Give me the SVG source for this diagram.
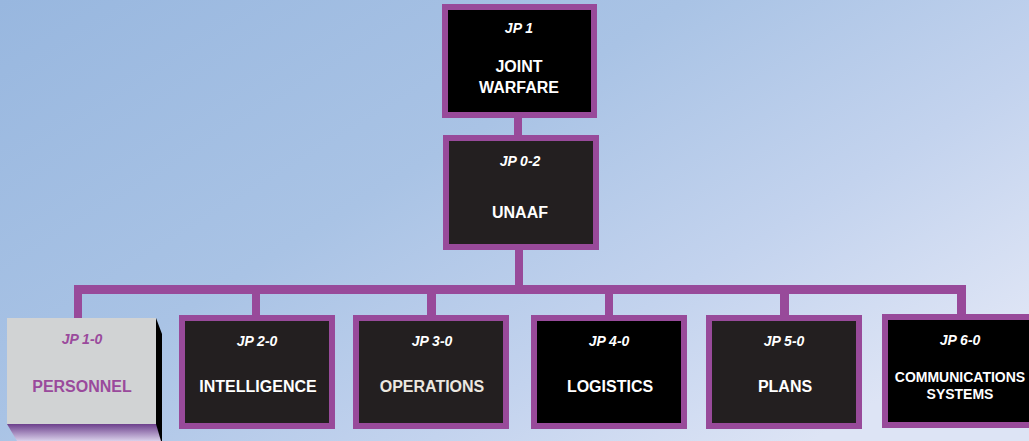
<svg xmlns="http://www.w3.org/2000/svg" width="1029" height="441" viewBox="0 0 1029 441">
  <defs>
    <linearGradient id="sky" x1="0" y1="0" x2="1" y2="0.7">
      <stop offset="0" stop-color="#98b7df"/>
      <stop offset="0.45" stop-color="#a9c3e5"/>
      <stop offset="0.75" stop-color="#c3d3ee"/>
      <stop offset="1" stop-color="#dde4f5"/>
    </linearGradient>
    <linearGradient id="bevel" x1="0" y1="0" x2="0" y2="1">
      <stop offset="0" stop-color="#6c3f8c"/>
      <stop offset="1" stop-color="#d9d0ea"/>
    </linearGradient>
    <style>
      .link { fill: #984a9a; }
      .box { stroke: #984a9a; stroke-width: 6; }
      .dark { fill: #231f20; }
      .black { fill: #000000; }
      .code { font-family: "Liberation Sans", Arial, sans-serif; font-size: 14px; font-weight: bold; font-style: italic; fill: #ffffff; text-anchor: middle; }
      .name { font-family: "Liberation Sans", Arial, sans-serif; font-size: 16px; font-weight: bold; fill: #ffffff; text-anchor: middle; }
      .small { font-size: 14px; }
      .violet { fill: #9a4a9c; }
    </style>
  </defs>

  <rect width="1029" height="441" fill="url(#sky)"/>

  <!-- connectors -->
  <g id="connectors">
    <rect class="link" x="514" y="116" width="8" height="21"/>
    <rect class="link" x="515" y="248" width="8" height="41"/>
    <rect class="link" x="74" y="285" width="892" height="9"/>
    <rect class="link" x="74" y="285" width="8" height="34"/>
    <rect class="link" x="252" y="285" width="8" height="32"/>
    <rect class="link" x="427" y="285" width="9" height="32"/>
    <rect class="link" x="605" y="285" width="8" height="32"/>
    <rect class="link" x="780" y="285" width="9" height="32"/>
    <rect class="link" x="957" y="285" width="9" height="31"/>
  </g>

  <g id="jp1">
    <rect class="box black" x="445" y="7" width="149" height="108"/>
    <text class="code" x="519" y="33">JP 1</text>
    <text class="name" x="519" y="72">JOINT</text>
    <text class="name" x="519" y="93">WARFARE</text>
  </g>

  <g id="jp0-2">
    <rect class="box dark" x="446" y="138" width="150" height="109"/>
    <text class="code" x="520" y="166">JP 0-2</text>
    <text class="name" x="520" y="218">UNAAF</text>
  </g>

  <g id="jp1-0">
    <polygon fill="#000000" points="156,318 162,334 162,441 156,441"/>
    <polygon fill="url(#bevel)" points="7,424 156,424 161,441 17,441"/>
    <rect fill="#d1d3d4" x="7" y="318" width="149" height="106"/>
    <text class="code violet" x="82" y="344">JP 1-0</text>
    <text class="name violet" x="82" y="392">PERSONNEL</text>
  </g>

  <g id="jp2-0">
    <rect class="box dark" x="182" y="318" width="150" height="108"/>
    <text class="code" x="257" y="346">JP 2-0</text>
    <text class="name" x="258" y="392">INTELLIGENCE</text>
  </g>

  <g id="jp3-0">
    <rect class="box dark" x="356" y="318" width="150" height="108"/>
    <text class="code" x="432" y="346">JP 3-0</text>
    <text class="name" x="432" y="392" fill="#ece8e0" style="fill:#ece8e0">OPERATIONS</text>
  </g>

  <g id="jp4-0">
    <rect class="box black" x="534" y="318" width="150" height="108"/>
    <text class="code" x="609" y="346">JP 4-0</text>
    <text class="name" x="610" y="392">LOGISTICS</text>
  </g>

  <g id="jp5-0">
    <rect class="box dark" x="709" y="318" width="150" height="108"/>
    <text class="code" x="784" y="346">JP 5-0</text>
    <text class="name" x="785" y="392">PLANS</text>
  </g>

  <g id="jp6-0">
    <rect class="box black" x="885" y="317" width="150" height="108"/>
    <text class="code" x="960" y="345">JP 6-0</text>
    <text class="name small" x="960" y="382">COMMUNICATIONS</text>
    <text class="name small" x="960" y="399">SYSTEMS</text>
  </g>
</svg>
